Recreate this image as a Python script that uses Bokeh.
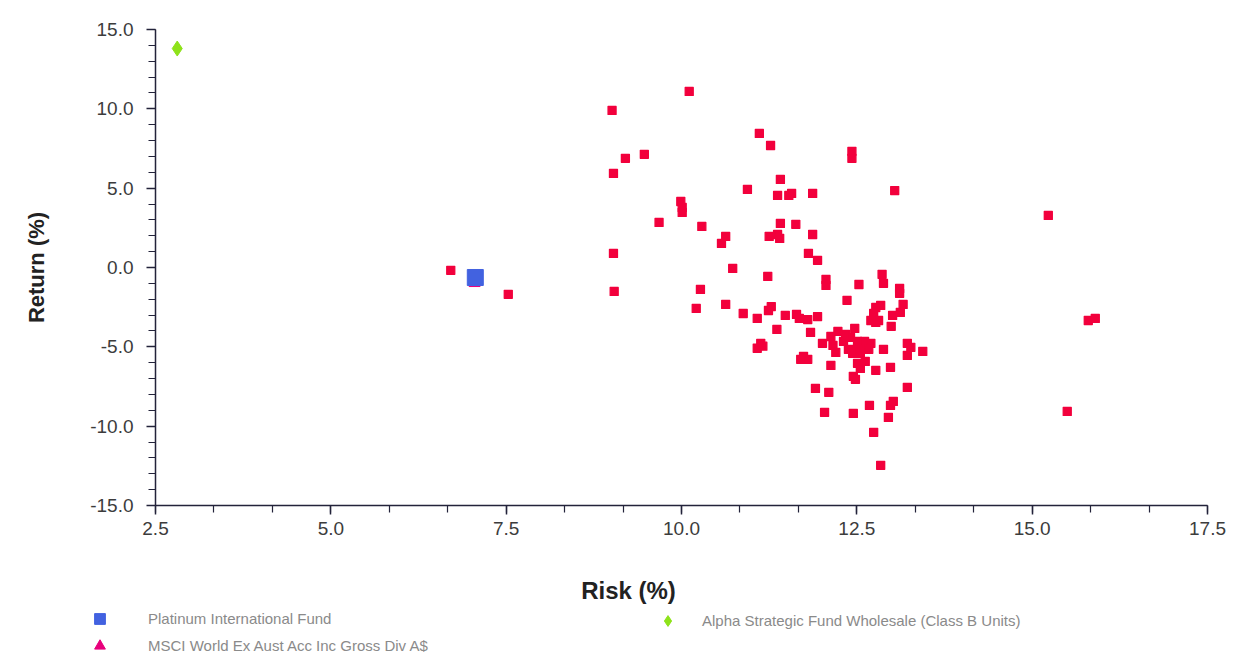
import numpy as np
from bokeh.plotting import figure
from bokeh.models import (Range1d, FixedTicker, NumeralTickFormatter, Legend,
                          LegendItem, Label, LinearAxis)
from bokeh.embed import file_html
from bokeh.resources import INLINE

# ---------------- data ----------------
peer_risk = [
    10.11, 9.01, 11.11, 11.27, 12.43, 12.43, 9.20, 9.47, 9.03, 11.41,
    10.94, 11.37, 11.53, 11.57, 11.87, 13.04, 9.99, 10.01, 10.01, 9.68,
    10.29, 11.41, 11.63, 11.87, 10.63, 10.57, 11.25, 11.37, 11.40, 9.03,
    11.81, 11.94, 10.73, 11.23, 12.06, 12.06, 12.53, 12.86, 12.88, 13.11,
    13.11, 9.04, 10.27, 10.21, 10.63, 12.36, 13.16,
    10.88, 11.08, 11.24, 11.28, 11.48, 11.64, 11.68, 11.80, 11.94, 11.36,
    11.84, 11.13, 11.08, 11.16, 12.77, 12.84, 12.70, 12.77, 12.81, 12.74,
    13.12, 13.01, 12.99, 12.47, 12.23, 12.13, 12.01, 12.16, 12.20,
    12.31, 12.41, 12.51, 12.61, 12.70, 12.38, 12.50, 12.58, 12.67, 12.44,
    12.55, 12.34, 12.88, 13.22, 13.27, 13.22, 13.44, 11.74, 11.80, 11.70,
    12.13, 12.51, 12.62, 12.55, 12.45, 12.48, 12.77, 12.98, 11.91, 12.10,
    13.22, 12.68, 13.02, 12.98, 12.04, 12.45, 12.95, 12.74, 12.84,
    15.23, 15.80, 15.90, 15.50, 6.71, 7.53,
]
peer_return = [
    11.10, 9.90, 8.45, 7.69, 7.32, 6.88, 6.88, 7.13, 5.93, 5.55,
    4.92, 4.54, 4.54, 4.67, 4.67, 4.85, 4.16, 3.78, 3.47, 2.84,
    2.59, 2.78, 2.72, 2.08, 1.96, 1.52, 1.96, 2.08, 1.83, 0.89,
    0.89, 0.45, -0.06, -0.56, -0.75, -1.13, -1.07, -0.43, -1.00, -1.32,
    -1.63, -1.51, -1.38, -2.58, -2.33, -2.07, -2.33,
    -2.90, -3.21, -2.71, -2.46, -3.02, -2.96, -3.21, -3.28, -3.09, -3.90,
    -4.09, -4.78, -5.09, -4.96, -2.52, -2.39, -3.34, -3.46, -3.34, -2.90,
    -2.83, -3.02, -3.71, -3.84, -4.03, -4.35, -4.78, -4.91, -5.35,
    -4.66, -4.41, -4.66, -4.66, -4.78, -5.16, -5.16, -5.16, -5.16, -5.41,
    -5.41, -4.22, -5.16, -4.78, -5.03, -5.54, -5.29, -5.60, -5.79, -5.79,
    -6.17, -6.04, -5.92, -6.36, -6.86, -7.05, -6.48, -6.29, -7.62, -7.87,
    -7.56, -8.69, -8.44, -8.69, -9.13, -9.20, -9.45, -10.39, -12.47,
    3.28, -3.34, -3.21, -9.07, -0.18, -1.69,
]

fund_name = "Platinum International Fund"
fund_risk = [7.06]
fund_return = [-0.63]

index_name = "MSCI World Ex Aust Acc Inc Gross Div A$"
index_risk = [7.05]
index_return = [-1.00]

alpha_name = "Alpha Strategic Fund Wholesale (Class B Units)"
alpha_risk = [2.81]
alpha_return = [13.80]

x_ticks = [2.5, 5.0, 7.5, 10.0, 12.5, 15.0, 17.5]
y_ticks = [-15.0, -10.0, -5.0, 0.0, 5.0, 10.0, 15.0]

# ---------------- layout / style ----------------
W, H = 1246, 655
AX_L, AX_R, AX_T, AX_B = 155, 1207, 29, 505      # pixel box of the axes
PEER_C = "#f2003c"
FUND_C = "#4262e0"
INDEX_C = "#e8007c"
ALPHA_C = "#8ee21a"
AXIS_C = "#23233a"
FONT = "Liberation Sans"

x0, x1 = x_ticks[0], x_ticks[-1]
y0, y1 = y_ticks[0], y_ticks[-1]
kx = (x1 - x0) / (AX_R - AX_L)
ky = (y1 - y0) / (AX_B - AX_T)
x_range = Range1d(x0 - AX_L * kx, x1 + (W - AX_R) * kx)
y_range = Range1d(y0 - (H - AX_B) * ky, y1 + AX_T * ky)

p = figure(width=W, height=H, x_range=x_range, y_range=y_range,
           x_axis_type=None, y_axis_type=None,
           output_backend="svg", toolbar_location=None,
           min_border_left=0, min_border_right=0,
           min_border_top=0, min_border_bottom=0)
p.outline_line_color = None
p.xgrid.visible = False
p.ygrid.visible = False
p.background_fill_color = "white"
p.border_fill_color = "white"

x_minor = list(np.linspace(x0, x1, 3 * (len(x_ticks) - 1) + 1))
y_minor = list(np.linspace(y0, y1, 5 * (len(y_ticks) - 1) + 1))

xaxis = LinearAxis(fixed_location=y0, bounds=(x0, x1),
                   ticker=FixedTicker(ticks=x_ticks, minor_ticks=x_minor),
                   formatter=NumeralTickFormatter(format="0.0"))
yaxis = LinearAxis(fixed_location=x0, bounds=(y0, y1),
                   ticker=FixedTicker(ticks=y_ticks, minor_ticks=y_minor),
                   formatter=NumeralTickFormatter(format="0.0"))

for ax in (xaxis, yaxis):
    ax.axis_line_color = AXIS_C
    ax.axis_line_width = 1.5
    ax.major_tick_line_color = AXIS_C
    ax.minor_tick_line_color = AXIS_C
    ax.major_tick_line_width = 1.5
    ax.minor_tick_line_width = 1.2
    ax.major_tick_in = 0
    ax.minor_tick_in = 0
    ax.major_tick_out = 9
    ax.minor_tick_out = 7
    ax.major_label_text_font = FONT
    ax.major_label_text_font_size = "19px"
    ax.major_label_text_color = "#3c3c3c"

xaxis.major_label_standoff = 7
yaxis.major_label_standoff = 13
yaxis.axis_label = "Return (%)"
yaxis.axis_label_text_font = FONT
yaxis.axis_label_text_font_size = "22px"
yaxis.axis_label_text_font_style = "bold"
yaxis.axis_label_text_color = "#222222"
yaxis.axis_label_standoff = 38
p.add_layout(xaxis, "below")
p.add_layout(yaxis, "left")

p.add_layout(Label(x=628, y=H - 590, x_units="screen", y_units="screen",
                   text="Risk (%)", text_align="center", text_baseline="middle",
                   text_font=FONT, text_font_size="24px", text_font_style="bold",
                   text_color="#222222"))

# ---------------- glyphs ----------------
peers = p.scatter(peer_risk, peer_return, marker="square", size=8,
                  fill_color=PEER_C, line_color=PEER_C, line_width=1.3,
                  line_join="round")
idx = p.scatter(index_risk, index_return, marker="triangle", size=11,
                fill_color=INDEX_C, line_color=INDEX_C)
fund = p.scatter(fund_risk, fund_return, marker="square", size=16,
                 fill_color=FUND_C, line_color=FUND_C)
alpha = p.scatter(alpha_risk, alpha_return, marker="diamond", size=15,
                  fill_color=ALPHA_C, line_color=ALPHA_C)

# ---------------- legends ----------------
def make_legend(items, loc, standoff):
    return Legend(items=items, location=loc, orientation="vertical",
                  border_line_color=None, background_fill_alpha=0,
                  padding=0, margin=0, spacing=0,
                  glyph_width=27, glyph_height=27, label_height=26,
                  label_standoff=standoff, label_text_font=FONT,
                  label_text_font_size="15px", label_text_color="#8a8a8a")


leg1 = make_legend([LegendItem(label=fund_name, renderers=[fund]),
                    LegendItem(label=index_name, renderers=[idx])],
                   (86, H - 659), 35)
leg2 = make_legend([LegendItem(label=alpha_name, renderers=[alpha])],
                   (654, H - 634), 21)
p.add_layout(leg1)
p.add_layout(leg2)

open("out.html", "w").write(file_html(p, INLINE))
